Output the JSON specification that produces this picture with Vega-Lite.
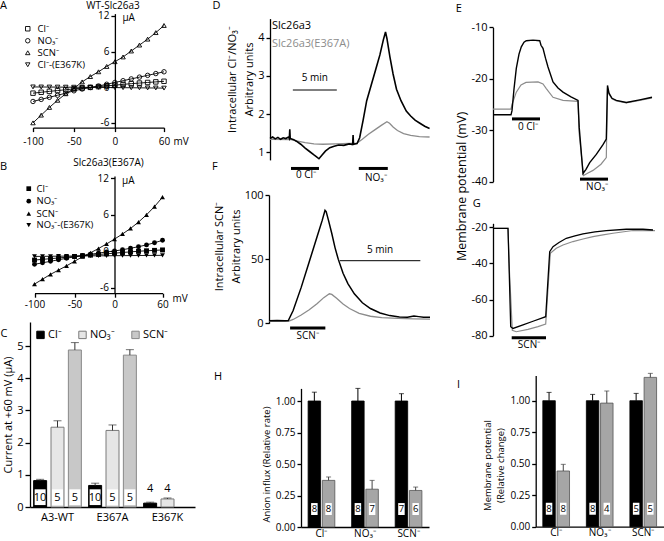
{
"$schema": "https://vega.github.io/schema/vega-lite/v6.json",
"background": "white",
"padding": 0,
"config": {
 "font": "Open Sans",
 "view": {"stroke": null},
 "axis": {"grid": false, "domainColor": "#000", "tickColor": "#000", "labelColor": "#000", "titleColor": "#000", "labelFontSize": 10, "titleFontSize": 11, "titleFontWeight": "normal", "tickSize": 4, "domainWidth": 1.3, "tickWidth": 1.3, "labelPadding": 2, "labelFont": "Open Sans", "titleFont": "Open Sans"},
 "legend": {"labelFont": "Open Sans", "labelColor": "#000", "padding": 0},
 "title": {"font": "Open Sans", "fontSize": 11, "fontWeight": "normal", "color": "#000", "anchor": "start", "baseline": "top", "offset": 0, "frame": "group"},
 "text": {"font": "Open Sans", "color": "#000"}
},
"datasets": {
 "ivA": [
  {"v":-100,"I":-1.0,"ion":"Cl⁻"},{"v":-90,"I":-0.85,"ion":"Cl⁻"},{"v":-80,"I":-0.7,"ion":"Cl⁻"},{"v":-70,"I":-0.56,"ion":"Cl⁻"},{"v":-60,"I":-0.42,"ion":"Cl⁻"},{"v":-50,"I":-0.28,"ion":"Cl⁻"},{"v":-40,"I":-0.15,"ion":"Cl⁻"},{"v":-30,"I":-0.02,"ion":"Cl⁻"},{"v":-20,"I":0.1,"ion":"Cl⁻"},{"v":-10,"I":0.22,"ion":"Cl⁻"},{"v":0,"I":0.35,"ion":"Cl⁻"},{"v":10,"I":0.48,"ion":"Cl⁻"},{"v":20,"I":0.6,"ion":"Cl⁻"},{"v":30,"I":0.7,"ion":"Cl⁻"},{"v":40,"I":0.8,"ion":"Cl⁻"},{"v":50,"I":0.9,"ion":"Cl⁻"},{"v":60,"I":1.0,"ion":"Cl⁻"},
  {"v":-100,"I":-2.4,"ion":"NO₃⁻"},{"v":-90,"I":-2.05,"ion":"NO₃⁻"},{"v":-80,"I":-1.7,"ion":"NO₃⁻"},{"v":-70,"I":-1.35,"ion":"NO₃⁻"},{"v":-60,"I":-1.0,"ion":"NO₃⁻"},{"v":-50,"I":-0.6,"ion":"NO₃⁻"},{"v":-40,"I":-0.3,"ion":"NO₃⁻"},{"v":-30,"I":-0.05,"ion":"NO₃⁻"},{"v":-20,"I":0.2,"ion":"NO₃⁻"},{"v":-10,"I":0.5,"ion":"NO₃⁻"},{"v":0,"I":0.8,"ion":"NO₃⁻"},{"v":10,"I":1.1,"ion":"NO₃⁻"},{"v":20,"I":1.4,"ion":"NO₃⁻"},{"v":30,"I":1.7,"ion":"NO₃⁻"},{"v":40,"I":2.0,"ion":"NO₃⁻"},{"v":50,"I":2.3,"ion":"NO₃⁻"},{"v":60,"I":2.6,"ion":"NO₃⁻"},
  {"v":-100,"I":-6.0,"ion":"SCN⁻"},{"v":-90,"I":-4.7,"ion":"SCN⁻"},{"v":-80,"I":-3.4,"ion":"SCN⁻"},{"v":-70,"I":-2.2,"ion":"SCN⁻"},{"v":-60,"I":-1.1,"ion":"SCN⁻"},{"v":-50,"I":-0.2,"ion":"SCN⁻"},{"v":-40,"I":0.9,"ion":"SCN⁻"},{"v":-30,"I":1.8,"ion":"SCN⁻"},{"v":-20,"I":2.6,"ion":"SCN⁻"},{"v":-10,"I":3.5,"ion":"SCN⁻"},{"v":0,"I":4.3,"ion":"SCN⁻"},{"v":10,"I":5.1,"ion":"SCN⁻"},{"v":20,"I":6.1,"ion":"SCN⁻"},{"v":30,"I":7.1,"ion":"SCN⁻"},{"v":40,"I":8.1,"ion":"SCN⁻"},{"v":50,"I":9.2,"ion":"SCN⁻"},{"v":60,"I":10.4,"ion":"SCN⁻"},
  {"v":-100,"I":0.05,"ion":"Cl⁻-(E367K)"},{"v":-90,"I":0.04,"ion":"Cl⁻-(E367K)"},{"v":-80,"I":0.03,"ion":"Cl⁻-(E367K)"},{"v":-70,"I":0.02,"ion":"Cl⁻-(E367K)"},{"v":-60,"I":0.01,"ion":"Cl⁻-(E367K)"},{"v":-50,"I":0.0,"ion":"Cl⁻-(E367K)"},{"v":-40,"I":-0.01,"ion":"Cl⁻-(E367K)"},{"v":-30,"I":-0.02,"ion":"Cl⁻-(E367K)"},{"v":-20,"I":-0.03,"ion":"Cl⁻-(E367K)"},{"v":-10,"I":-0.05,"ion":"Cl⁻-(E367K)"},{"v":0,"I":-0.06,"ion":"Cl⁻-(E367K)"},{"v":10,"I":-0.08,"ion":"Cl⁻-(E367K)"},{"v":20,"I":-0.09,"ion":"Cl⁻-(E367K)"},{"v":30,"I":-0.1,"ion":"Cl⁻-(E367K)"},{"v":40,"I":-0.12,"ion":"Cl⁻-(E367K)"},{"v":50,"I":-0.13,"ion":"Cl⁻-(E367K)"},{"v":60,"I":-0.15,"ion":"Cl⁻-(E367K)"}
 ],
 "ivB": [
  {"v":-100,"I":-1.45,"ion":"Cl⁻"},{"v":-90,"I":-1.33,"ion":"Cl⁻"},{"v":-80,"I":-1.22,"ion":"Cl⁻"},{"v":-70,"I":-1.1,"ion":"Cl⁻"},{"v":-60,"I":-0.98,"ion":"Cl⁻"},{"v":-50,"I":-0.86,"ion":"Cl⁻"},{"v":-40,"I":-0.75,"ion":"Cl⁻"},{"v":-30,"I":-0.64,"ion":"Cl⁻"},{"v":-20,"I":-0.53,"ion":"Cl⁻"},{"v":-10,"I":-0.42,"ion":"Cl⁻"},{"v":0,"I":-0.31,"ion":"Cl⁻"},{"v":10,"I":-0.2,"ion":"Cl⁻"},{"v":20,"I":-0.1,"ion":"Cl⁻"},{"v":30,"I":0.0,"ion":"Cl⁻"},{"v":40,"I":0.08,"ion":"Cl⁻"},{"v":50,"I":0.15,"ion":"Cl⁻"},{"v":60,"I":0.22,"ion":"Cl⁻"},
  {"v":-100,"I":-2.15,"ion":"NO₃⁻"},{"v":-90,"I":-1.9,"ion":"NO₃⁻"},{"v":-80,"I":-1.65,"ion":"NO₃⁻"},{"v":-70,"I":-1.4,"ion":"NO₃⁻"},{"v":-60,"I":-1.15,"ion":"NO₃⁻"},{"v":-50,"I":-0.92,"ion":"NO₃⁻"},{"v":-40,"I":-0.7,"ion":"NO₃⁻"},{"v":-30,"I":-0.5,"ion":"NO₃⁻"},{"v":-20,"I":-0.3,"ion":"NO₃⁻"},{"v":-10,"I":-0.12,"ion":"NO₃⁻"},{"v":0,"I":0.05,"ion":"NO₃⁻"},{"v":10,"I":0.25,"ion":"NO₃⁻"},{"v":20,"I":0.5,"ion":"NO₃⁻"},{"v":30,"I":0.75,"ion":"NO₃⁻"},{"v":40,"I":1.05,"ion":"NO₃⁻"},{"v":50,"I":1.4,"ion":"NO₃⁻"},{"v":60,"I":1.8,"ion":"NO₃⁻"},
  {"v":-100,"I":-5.4,"ion":"SCN⁻"},{"v":-90,"I":-4.6,"ion":"SCN⁻"},{"v":-80,"I":-3.8,"ion":"SCN⁻"},{"v":-70,"I":-3.1,"ion":"SCN⁻"},{"v":-60,"I":-2.4,"ion":"SCN⁻"},{"v":-50,"I":-1.65,"ion":"SCN⁻"},{"v":-40,"I":-0.9,"ion":"SCN⁻"},{"v":-30,"I":-0.25,"ion":"SCN⁻"},{"v":-20,"I":0.45,"ion":"SCN⁻"},{"v":-10,"I":1.2,"ion":"SCN⁻"},{"v":0,"I":2.0,"ion":"SCN⁻"},{"v":10,"I":2.85,"ion":"SCN⁻"},{"v":20,"I":3.75,"ion":"SCN⁻"},{"v":30,"I":4.8,"ion":"SCN⁻"},{"v":40,"I":6.0,"ion":"SCN⁻"},{"v":50,"I":7.35,"ion":"SCN⁻"},{"v":60,"I":8.9,"ion":"SCN⁻"},
  {"v":-100,"I":-0.85,"ion":"NO₃⁻-(E367K)"},{"v":-90,"I":-0.84,"ion":"NO₃⁻-(E367K)"},{"v":-80,"I":-0.82,"ion":"NO₃⁻-(E367K)"},{"v":-70,"I":-0.81,"ion":"NO₃⁻-(E367K)"},{"v":-60,"I":-0.8,"ion":"NO₃⁻-(E367K)"},{"v":-50,"I":-0.78,"ion":"NO₃⁻-(E367K)"},{"v":-40,"I":-0.77,"ion":"NO₃⁻-(E367K)"},{"v":-30,"I":-0.76,"ion":"NO₃⁻-(E367K)"},{"v":-20,"I":-0.75,"ion":"NO₃⁻-(E367K)"},{"v":-10,"I":-0.74,"ion":"NO₃⁻-(E367K)"},{"v":0,"I":-0.73,"ion":"NO₃⁻-(E367K)"},{"v":10,"I":-0.72,"ion":"NO₃⁻-(E367K)"},{"v":20,"I":-0.71,"ion":"NO₃⁻-(E367K)"},{"v":30,"I":-0.7,"ion":"NO₃⁻-(E367K)"},{"v":40,"I":-0.69,"ion":"NO₃⁻-(E367K)"},{"v":50,"I":-0.68,"ion":"NO₃⁻-(E367K)"},{"v":60,"I":-0.67,"ion":"NO₃⁻-(E367K)"}
 ],
 "barC": [
  {"group":"A3-WT","anion":"Cl⁻","mean":0.82,"hi":0.86,"n":"10"},
  {"group":"A3-WT","anion":"NO₃⁻","mean":2.48,"hi":2.68,"n":"5"},
  {"group":"A3-WT","anion":"SCN⁻","mean":4.88,"hi":5.11,"n":"5"},
  {"group":"E367A","anion":"Cl⁻","mean":0.67,"hi":0.74,"n":"10"},
  {"group":"E367A","anion":"NO₃⁻","mean":2.38,"hi":2.55,"n":"5"},
  {"group":"E367A","anion":"SCN⁻","mean":4.72,"hi":4.89,"n":"5"},
  {"group":"E367K","anion":"Cl⁻","mean":0.12,"hi":0.15,"n":"4"},
  {"group":"E367K","anion":"NO₃⁻","mean":0.25,"hi":0.28,"n":"4"}
 ],
 "barH": [
  {"anion":"Cl⁻","cell":"WT","mean":1.0,"hi":1.07,"n":"8"},
  {"anion":"Cl⁻","cell":"E367A","mean":0.37,"hi":0.397,"n":"8"},
  {"anion":"NO₃⁻","cell":"WT","mean":1.0,"hi":1.1,"n":"8"},
  {"anion":"NO₃⁻","cell":"E367A","mean":0.3,"hi":0.37,"n":"7"},
  {"anion":"SCN⁻","cell":"WT","mean":1.0,"hi":1.058,"n":"7"},
  {"anion":"SCN⁻","cell":"E367A","mean":0.29,"hi":0.317,"n":"6"}
 ],
 "barI": [
  {"anion":"Cl⁻","cell":"WT","mean":1.0,"hi":1.066,"n":"8"},
  {"anion":"Cl⁻","cell":"E367A","mean":0.442,"hi":0.495,"n":"8"},
  {"anion":"NO₃⁻","cell":"WT","mean":1.0,"hi":1.05,"n":"8"},
  {"anion":"NO₃⁻","cell":"E367A","mean":0.981,"hi":1.077,"n":"4"},
  {"anion":"SCN⁻","cell":"WT","mean":1.0,"hi":1.058,"n":"5"},
  {"anion":"SCN⁻","cell":"E367A","mean":1.185,"hi":1.217,"n":"5"}
 ],
 "trD": [
  {"t":0,"val":1.36,"cell":"WT"},{"t":0.3,"val":1.4,"cell":"WT"},{"t":0.6,"val":1.35,"cell":"WT"},{"t":0.9,"val":1.39,"cell":"WT"},{"t":1.2,"val":1.34,"cell":"WT"},{"t":1.5,"val":1.38,"cell":"WT"},{"t":1.8,"val":1.36,"cell":"WT"},{"t":2.1,"val":1.4,"cell":"WT"},{"t":2.2,"val":1.36,"cell":"WT"},{"t":2.25,"val":1.6,"cell":"WT"},{"t":2.3,"val":1.36,"cell":"WT"},{"t":2.7,"val":1.33,"cell":"WT"},{"t":3.0,"val":1.29,"cell":"WT"},{"t":3.5,"val":1.21,"cell":"WT"},{"t":4.0,"val":1.11,"cell":"WT"},{"t":4.5,"val":1.02,"cell":"WT"},{"t":5.0,"val":0.93,"cell":"WT"},{"t":5.3,"val":0.88,"cell":"WT"},{"t":5.57,"val":0.83,"cell":"WT"},{"t":5.9,"val":0.92,"cell":"WT"},{"t":6.3,"val":1.03,"cell":"WT"},{"t":6.8,"val":1.12,"cell":"WT"},{"t":7.3,"val":1.16,"cell":"WT"},{"t":7.8,"val":1.19,"cell":"WT"},{"t":8.4,"val":1.18,"cell":"WT"},{"t":9.0,"val":1.22,"cell":"WT"},{"t":9.4,"val":1.2,"cell":"WT"},{"t":9.45,"val":1.45,"cell":"WT"},{"t":9.5,"val":1.21,"cell":"WT"},{"t":9.9,"val":1.23,"cell":"WT"},{"t":10.2,"val":1.38,"cell":"WT"},{"t":10.6,"val":1.85,"cell":"WT"},{"t":11.0,"val":2.35,"cell":"WT"},{"t":11.5,"val":2.75,"cell":"WT"},{"t":12.0,"val":3.15,"cell":"WT"},{"t":12.5,"val":3.55,"cell":"WT"},{"t":12.9,"val":3.95,"cell":"WT"},{"t":13.14,"val":4.15,"cell":"WT"},{"t":13.3,"val":3.98,"cell":"WT"},{"t":13.64,"val":3.5,"cell":"WT"},{"t":14.0,"val":3.05,"cell":"WT"},{"t":14.39,"val":2.65,"cell":"WT"},{"t":14.9,"val":2.35,"cell":"WT"},{"t":15.5,"val":2.08,"cell":"WT"},{"t":16.0,"val":1.95,"cell":"WT"},{"t":16.5,"val":1.84,"cell":"WT"},{"t":17.05,"val":1.76,"cell":"WT"},{"t":17.6,"val":1.68,"cell":"WT"},{"t":18.15,"val":1.62,"cell":"WT"},
  {"t":0,"val":1.34,"cell":"E367A"},{"t":2.4,"val":1.33,"cell":"E367A"},{"t":3.0,"val":1.3,"cell":"E367A"},{"t":4.0,"val":1.25,"cell":"E367A"},{"t":5.0,"val":1.22,"cell":"E367A"},{"t":6.0,"val":1.21,"cell":"E367A"},{"t":7.5,"val":1.22,"cell":"E367A"},{"t":9.0,"val":1.23,"cell":"E367A"},{"t":9.9,"val":1.24,"cell":"E367A"},{"t":10.5,"val":1.34,"cell":"E367A"},{"t":11.2,"val":1.47,"cell":"E367A"},{"t":12.0,"val":1.6,"cell":"E367A"},{"t":12.7,"val":1.71,"cell":"E367A"},{"t":13.3,"val":1.8,"cell":"E367A"},{"t":13.6,"val":1.76,"cell":"E367A"},{"t":14.0,"val":1.66,"cell":"E367A"},{"t":14.5,"val":1.57,"cell":"E367A"},{"t":15.2,"val":1.49,"cell":"E367A"},{"t":16.0,"val":1.44,"cell":"E367A"},{"t":17.0,"val":1.41,"cell":"E367A"},{"t":18.15,"val":1.4,"cell":"E367A"}
 ],
 "trF": [
  {"t":0,"val":2.0,"cell":"WT"},{"t":0.5,"val":2.1,"cell":"WT"},{"t":1.0,"val":2.0,"cell":"WT"},{"t":1.2,"val":2.2,"cell":"WT"},{"t":1.5,"val":10,"cell":"WT"},{"t":2.0,"val":28,"cell":"WT"},{"t":2.5,"val":48,"cell":"WT"},{"t":3.0,"val":68,"cell":"WT"},{"t":3.3,"val":80,"cell":"WT"},{"t":3.48,"val":88,"cell":"WT"},{"t":3.55,"val":87,"cell":"WT"},{"t":3.7,"val":80,"cell":"WT"},{"t":3.9,"val":70,"cell":"WT"},{"t":4.1,"val":59,"cell":"WT"},{"t":4.3,"val":50,"cell":"WT"},{"t":4.6,"val":39,"cell":"WT"},{"t":4.9,"val":31,"cell":"WT"},{"t":5.3,"val":23,"cell":"WT"},{"t":5.8,"val":16,"cell":"WT"},{"t":6.3,"val":11.5,"cell":"WT"},{"t":6.9,"val":8,"cell":"WT"},{"t":7.5,"val":6,"cell":"WT"},{"t":8.1,"val":5,"cell":"WT"},{"t":8.6,"val":4.8,"cell":"WT"},{"t":9.0,"val":5.6,"cell":"WT"},{"t":9.3,"val":5.2,"cell":"WT"},{"t":9.6,"val":4.8,"cell":"WT"},{"t":10,"val":4.7,"cell":"WT"},
  {"t":0,"val":1.5,"cell":"E367A"},{"t":1.2,"val":1.6,"cell":"E367A"},{"t":1.5,"val":3,"cell":"E367A"},{"t":2.0,"val":6.5,"cell":"E367A"},{"t":2.5,"val":10.5,"cell":"E367A"},{"t":3.0,"val":15.5,"cell":"E367A"},{"t":3.4,"val":20,"cell":"E367A"},{"t":3.75,"val":23,"cell":"E367A"},{"t":3.9,"val":22.5,"cell":"E367A"},{"t":4.2,"val":19.5,"cell":"E367A"},{"t":4.6,"val":15,"cell":"E367A"},{"t":5.0,"val":11.5,"cell":"E367A"},{"t":5.6,"val":7.8,"cell":"E367A"},{"t":6.3,"val":5.5,"cell":"E367A"},{"t":7.0,"val":4.4,"cell":"E367A"},{"t":8.0,"val":3.8,"cell":"E367A"},{"t":9.0,"val":3.5,"cell":"E367A"},{"t":10,"val":3.3,"cell":"E367A"}
 ],
 "trE": [
  {"t":0,"val":-27.0,"cell":"WT"},{"t":1.8,"val":-27.0,"cell":"WT"},{"t":1.9,"val":-26.2,"cell":"WT"},{"t":2.1,"val":-22,"cell":"WT"},{"t":2.33,"val":-18,"cell":"WT"},{"t":2.6,"val":-15.2,"cell":"WT"},{"t":2.83,"val":-13.8,"cell":"WT"},{"t":3.1,"val":-12.9,"cell":"WT"},{"t":3.33,"val":-12.6,"cell":"WT"},{"t":4.0,"val":-12.5,"cell":"WT"},{"t":4.67,"val":-12.6,"cell":"WT"},{"t":4.8,"val":-13.5,"cell":"WT"},{"t":5.0,"val":-14.1,"cell":"WT"},{"t":5.25,"val":-16,"cell":"WT"},{"t":5.5,"val":-17.7,"cell":"WT"},{"t":6.0,"val":-20.6,"cell":"WT"},{"t":6.5,"val":-21.8,"cell":"WT"},{"t":7.0,"val":-22.6,"cell":"WT"},{"t":7.8,"val":-23.5,"cell":"WT"},{"t":8.5,"val":-24.2,"cell":"WT"},{"t":8.62,"val":-29.4,"cell":"WT"},{"t":9.0,"val":-38.4,"cell":"WT"},{"t":9.3,"val":-37.6,"cell":"WT"},{"t":9.67,"val":-36.3,"cell":"WT"},{"t":10.33,"val":-34.7,"cell":"WT"},{"t":11.0,"val":-32.8,"cell":"WT"},{"t":11.33,"val":-31.7,"cell":"WT"},{"t":11.45,"val":-21.3,"cell":"WT"},{"t":11.6,"val":-22.8,"cell":"WT"},{"t":11.9,"val":-23.8,"cell":"WT"},{"t":12.33,"val":-24.2,"cell":"WT"},{"t":13.33,"val":-24.6,"cell":"WT"},{"t":14.67,"val":-24.1,"cell":"WT"},{"t":15.9,"val":-23.6,"cell":"WT"},
  {"t":0,"val":-25.9,"cell":"E367A"},{"t":1.8,"val":-25.9,"cell":"E367A"},{"t":1.9,"val":-25.0,"cell":"E367A"},{"t":2.33,"val":-22.6,"cell":"E367A"},{"t":2.8,"val":-21.2,"cell":"E367A"},{"t":3.3,"val":-20.7,"cell":"E367A"},{"t":4.5,"val":-20.6,"cell":"E367A"},{"t":5.0,"val":-21.0,"cell":"E367A"},{"t":5.33,"val":-21.9,"cell":"E367A"},{"t":6.0,"val":-23.6,"cell":"E367A"},{"t":7.0,"val":-24.2,"cell":"E367A"},{"t":8.5,"val":-24.4,"cell":"E367A"},{"t":8.62,"val":-30.7,"cell":"E367A"},{"t":9.05,"val":-38.8,"cell":"E367A"},{"t":9.5,"val":-38.3,"cell":"E367A"},{"t":10.0,"val":-37.8,"cell":"E367A"},{"t":10.8,"val":-36.6,"cell":"E367A"},{"t":11.33,"val":-35.3,"cell":"E367A"},{"t":11.45,"val":-21.8,"cell":"E367A"},{"t":11.6,"val":-23,"cell":"E367A"},{"t":11.9,"val":-23.9,"cell":"E367A"},{"t":12.33,"val":-24.3,"cell":"E367A"},{"t":13.33,"val":-24.7,"cell":"E367A"},{"t":14.67,"val":-24.2,"cell":"E367A"},{"t":15.9,"val":-23.7,"cell":"E367A"}
 ],
 "trG": [
  {"t":0,"val":-20.6,"cell":"WT"},{"t":1.5,"val":-20.6,"cell":"WT"},{"t":1.6,"val":-40,"cell":"WT"},{"t":1.77,"val":-75,"cell":"WT"},{"t":2.0,"val":-76,"cell":"WT"},{"t":3.0,"val":-74,"cell":"WT"},{"t":4.0,"val":-72,"cell":"WT"},{"t":5.27,"val":-69.5,"cell":"WT"},{"t":5.67,"val":-33.5,"cell":"WT"},{"t":6.0,"val":-30.7,"cell":"WT"},{"t":6.6,"val":-28.4,"cell":"WT"},{"t":7.33,"val":-26.1,"cell":"WT"},{"t":8.2,"val":-24.8,"cell":"WT"},{"t":9.0,"val":-23.7,"cell":"WT"},{"t":10.2,"val":-22.6,"cell":"WT"},{"t":11.33,"val":-21.8,"cell":"WT"},{"t":13.33,"val":-21.1,"cell":"WT"},{"t":15.0,"val":-21.1,"cell":"WT"},{"t":16.0,"val":-21.5,"cell":"WT"},
  {"t":0,"val":-20.6,"cell":"E367A"},{"t":1.5,"val":-20.6,"cell":"E367A"},{"t":1.65,"val":-45,"cell":"E367A"},{"t":1.93,"val":-77,"cell":"E367A"},{"t":2.33,"val":-77.8,"cell":"E367A"},{"t":3.5,"val":-76.5,"cell":"E367A"},{"t":4.5,"val":-75,"cell":"E367A"},{"t":5.27,"val":-73.5,"cell":"E367A"},{"t":5.73,"val":-34.4,"cell":"E367A"},{"t":6.33,"val":-31.6,"cell":"E367A"},{"t":7.0,"val":-29.8,"cell":"E367A"},{"t":8.0,"val":-27.9,"cell":"E367A"},{"t":9.0,"val":-26.5,"cell":"E367A"},{"t":10.0,"val":-25.2,"cell":"E367A"},{"t":11.0,"val":-24.2,"cell":"E367A"},{"t":12.0,"val":-23.3,"cell":"E367A"},{"t":14.0,"val":-21.8,"cell":"E367A"},{"t":16.2,"val":-21.8,"cell":"E367A"}
 ]
},
"columns": 3,
"spacing": 0,
"bounds": "flush",
"resolve": {"scale": {"color": "independent", "fill": "independent", "stroke": "independent", "shape": "independent", "x": "independent", "y": "independent", "xOffset": "independent", "size": "independent", "strokeWidth": "independent"}, "legend": {"color": "independent", "fill": "independent", "stroke": "independent", "shape": "independent"}},
"concat": [
 {"width": 200, "height": 155,
  "layer": [
   {"data": {"name": "ivA"}, "mark": {"type": "line", "color": "#000", "strokeWidth": 0.9},
    "encoding": {
     "x": {"field": "v", "type": "quantitative", "scale": {"domain": [-100, 60], "range": [33, 164], "nice": false, "zero": false}, "axis": {"values": [-100, -50, 0, 60], "offset": -27.4, "title": "mV", "titleAngle": 0, "titleAlign": "left", "titleBaseline": "middle", "titleX": 173, "titleY": 14, "titleFontSize": 10, "labelFlush": false, "labelPadding": 5, "labelExpr": "replace(datum.label,'−','-')"}},
     "y": {"field": "I", "type": "quantitative", "scale": {"domain": [-6.8, 12.4], "range": [127.6, 13.6], "nice": false, "zero": false}, "axis": {"values": [-6, -3, 0, 3, 6, 9, 12], "offset": -114.9, "title": "μA", "titleAngle": 0, "titleAlign": "left", "titleBaseline": "middle", "titleX": 7, "titleY": 17, "titleFontSize": 10, "labelExpr": "replace(datum.label,'−','-')"}},
     "detail": {"field": "ion", "type": "nominal"}}},
   {"data": {"name": "ivA"}, "mark": {"type": "point", "filled": false, "color": "#000", "size": 20, "strokeWidth": 0.9, "opacity": 1},
    "encoding": {
     "x": {"field": "v", "type": "quantitative", "title": "mV", "scale": {"domain": [-100, 60], "range": [33, 164], "nice": false, "zero": false}},
     "y": {"field": "I", "type": "quantitative", "title": "μA", "scale": {"domain": [-6.8, 12.4], "range": [127.6, 13.6], "nice": false, "zero": false}},
     "shape": {"field": "ion", "type": "nominal", "scale": {"domain": ["Cl⁻", "NO₃⁻", "SCN⁻", "Cl⁻-(E367K)"], "range": ["square", "circle", "triangle-up", "triangle-down"]},
     "legend": {"orient": "none", "legendX": 23, "legendY": 24, "title": null, "labelFontSize": 9.5, "symbolSize": 20, "symbolStrokeColor": "#000", "symbolStrokeWidth": 0.9, "rowPadding": 1, "labelOffset": 5}}}},
   {"data": {"values": [{"k": 0}]}, "mark": {"type": "text", "text": "WT-Slc26a3", "fontSize": 10},
    "encoding": {"x": {"datum": -2.3, "type": "quantitative", "title": "mV", "scale": {"domain": [-100, 60], "range": [33, 164], "nice": false, "zero": false}}, "y": {"datum": 13.6, "type": "quantitative", "title": "μA", "scale": {"domain": [-6.8, 12.4], "range": [127.6, 13.6], "nice": false, "zero": false}}}},
   {"data": {"values": [{"k": 0}]}, "mark": {"type": "text", "text": "A", "fontSize": 11, "align": "left", "baseline": "alphabetic"},
    "encoding": {"x": {"datum": -140.3, "type": "quantitative", "title": "mV", "scale": {"domain": [-100, 60], "range": [33, 164], "nice": false, "zero": false}}, "y": {"datum": 13.12, "type": "quantitative", "title": "μA", "scale": {"domain": [-6.8, 12.4], "range": [127.6, 13.6], "nice": false, "zero": false}}}}
  ]},
 {"width": 240, "height": 155,
  "layer": [
   {"data": {"name": "trD"}, "transform": [{"filter": "datum.cell === 'E367A'"}], "mark": {"type": "line", "color": "#8c8c8c", "strokeWidth": 1.3},
    "encoding": {
     "x": {"field": "t", "type": "quantitative", "scale": {"domain": [0, 18.2], "range": [70, 230], "nice": false, "zero": false}, "axis": null},
     "y": {"field": "val", "type": "quantitative", "scale": {"domain": [0.8, 4.5], "range": [159.9, 18.6], "nice": false, "zero": false}, "axis": {"values": [1, 2, 3, 4], "offset": -70, "title": ["Intracellular Cl⁻/NO₃⁻", "Arbitrary units"], "titleFontSize": 11, "titleLineHeight": 17, "labelFontSize": 11, "titleY": 79, "titlePadding": 3}}}},
   {"data": {"name": "trD"}, "transform": [{"filter": "datum.cell === 'WT'"}], "mark": {"type": "line", "color": "#000", "strokeWidth": 1.6},
    "encoding": {
     "x": {"field": "t", "type": "quantitative", "scale": {"domain": [0, 18.2], "range": [70, 230], "nice": false, "zero": false}, "axis": null},
     "y": {"field": "val", "type": "quantitative", "scale": {"domain": [0.8, 4.5], "range": [159.9, 18.6], "nice": false, "zero": false}}}},
   {"data": {"values": [{"lab": "0 Cl⁻", "a": 2.39, "b": 5.57, "c": 0.576, "tx": 4.09, "ty": 0.4}, {"lab": "NO₃⁻", "a": 10.1, "b": 13.4, "c": 0.576, "tx": 12.05, "ty": 0.33}]},
    "layer": [
     {"mark": {"type": "rule", "strokeWidth": 3, "color": "#000"},
      "encoding": {"x": {"field": "a", "type": "quantitative", "scale": {"domain": [0, 18.2], "range": [70, 230], "nice": false, "zero": false}, "axis": null}, "x2": {"field": "b"}, "y": {"field": "c", "type": "quantitative", "scale": {"domain": [0.8, 4.5], "range": [159.9, 18.6], "nice": false, "zero": false}}}},
     {"mark": {"type": "text", "fontSize": 10},
      "encoding": {"x": {"field": "tx", "type": "quantitative", "scale": {"domain": [0, 18.2], "range": [70, 230], "nice": false, "zero": false}, "axis": null}, "y": {"field": "ty", "type": "quantitative", "scale": {"domain": [0.8, 4.5], "range": [159.9, 18.6], "nice": false, "zero": false}}, "text": {"field": "lab"}}}
    ]},
   {"data": {"values": [{"lab": "5 min", "a": 2.6, "b": 7.6, "c": 2.63, "tx": 5.1, "ty": 2.94}]},
    "layer": [
     {"mark": {"type": "rule", "strokeWidth": 1, "color": "#000"},
      "encoding": {"x": {"field": "a", "type": "quantitative", "scale": {"domain": [0, 18.2], "range": [70, 230], "nice": false, "zero": false}, "axis": null}, "x2": {"field": "b"}, "y": {"field": "c", "type": "quantitative", "scale": {"domain": [0.8, 4.5], "range": [159.9, 18.6], "nice": false, "zero": false}}}},
     {"mark": {"type": "text", "fontSize": 10},
      "encoding": {"x": {"field": "tx", "type": "quantitative", "scale": {"domain": [0, 18.2], "range": [70, 230], "nice": false, "zero": false}, "axis": null}, "y": {"field": "ty", "type": "quantitative", "scale": {"domain": [0.8, 4.5], "range": [159.9, 18.6], "nice": false, "zero": false}}, "text": {"field": "lab"}}}
    ]},
   {"data": {"values": [{"lab": "Slc26a3", "tx": 0.23, "ty": 4.31, "col": "k"}, {"lab": "Slc26a3(E367A)", "tx": 0.23, "ty": 3.835, "col": "g"}]},
    "mark": {"type": "text", "fontSize": 11, "align": "left"},
    "encoding": {
     "x": {"field": "tx", "type": "quantitative", "scale": {"domain": [0, 18.2], "range": [70, 230], "nice": false, "zero": false}, "axis": null},
     "y": {"field": "ty", "type": "quantitative", "scale": {"domain": [0.8, 4.5], "range": [159.9, 18.6], "nice": false, "zero": false}},
     "text": {"field": "lab"},
     "color": {"condition": {"test": "datum.col === 'g'", "value": "#8c8c8c"}, "value": "#000"}}},
   {"data": {"values": [{"k": 0}]}, "mark": {"type": "text", "text": "D", "fontSize": 11, "align": "left", "baseline": "alphabetic"},
    "encoding": {"x": {"datum": -6.54, "type": "quantitative", "scale": {"domain": [0, 18.2], "range": [70, 230], "nice": false, "zero": false}, "axis": null}, "y": {"datum": 4.744, "type": "quantitative", "scale": {"domain": [0.8, 4.5], "range": [159.9, 18.6], "nice": false, "zero": false}}}}
  ]},
 {"width": 224, "height": 155,
  "layer": [
   {"data": {"name": "trE"}, "transform": [{"filter": "datum.cell === 'E367A'"}], "mark": {"type": "line", "color": "#8c8c8c", "strokeWidth": 1.2},
    "encoding": {
     "x": {"field": "t", "type": "quantitative", "scale": {"domain": [0, 16.7], "range": [53, 220], "nice": false, "zero": false}, "axis": null},
     "y": {"field": "val", "type": "quantitative", "scale": {"domain": [-40, -10], "range": [181.7, 27.3], "nice": false, "zero": false}, "axis": {"values": [-10, -20, -30, -40], "offset": -53, "title": "Membrane potential (mV)", "titleFontSize": 12.5, "titleX": -25, "titleY": 186, "labelFontSize": 11, "labelExpr": "replace(datum.label,'−','-')"}}}},
   {"data": {"name": "trE"}, "transform": [{"filter": "datum.cell === 'WT'"}], "mark": {"type": "line", "color": "#000", "strokeWidth": 1.4},
    "encoding": {
     "x": {"field": "t", "type": "quantitative", "scale": {"domain": [0, 16.7], "range": [53, 220], "nice": false, "zero": false}, "axis": null},
     "y": {"field": "val", "type": "quantitative", "scale": {"domain": [-40, -10], "range": [181.7, 27.3], "nice": false, "zero": false}}}},
   {"data": {"values": [{"lab": "0 Cl⁻", "a": 1.9, "b": 4.7, "c": -27.8, "tx": 3.5, "ty": -29.4}, {"lab": "NO₃⁻", "a": 8.7, "b": 11.5, "c": -39.5, "tx": 10.4, "ty": -41.0}]},
    "layer": [
     {"mark": {"type": "rule", "strokeWidth": 3, "color": "#000"},
      "encoding": {"x": {"field": "a", "type": "quantitative", "scale": {"domain": [0, 16.7], "range": [53, 220], "nice": false, "zero": false}, "axis": null}, "x2": {"field": "b"}, "y": {"field": "c", "type": "quantitative", "scale": {"domain": [-40, -10], "range": [181.7, 27.3], "nice": false, "zero": false}}}},
     {"mark": {"type": "text", "fontSize": 10},
      "encoding": {"x": {"field": "tx", "type": "quantitative", "scale": {"domain": [0, 16.7], "range": [53, 220], "nice": false, "zero": false}, "axis": null}, "y": {"field": "ty", "type": "quantitative", "scale": {"domain": [-40, -10], "range": [181.7, 27.3], "nice": false, "zero": false}}, "text": {"field": "lab"}}}
    ]},
   {"data": {"values": [{"k": 0}]}, "mark": {"type": "text", "text": "E", "fontSize": 11, "align": "left", "baseline": "alphabetic"},
    "encoding": {"x": {"datum": -3.73, "type": "quantitative", "scale": {"domain": [0, 16.7], "range": [53, 220], "nice": false, "zero": false}, "axis": null}, "y": {"datum": -6.97, "type": "quantitative", "scale": {"domain": [-40, -10], "range": [181.7, 27.3], "nice": false, "zero": false}}}}
  ]},
 {"width": 200, "height": 160,
  "layer": [
   {"data": {"name": "ivB"}, "mark": {"type": "line", "color": "#000", "strokeWidth": 0.9},
    "encoding": {
     "x": {"field": "v", "type": "quantitative", "scale": {"domain": [-100, 60], "range": [34.5, 162.5], "nice": false, "zero": false}, "axis": {"values": [-100, -50, 0, 60], "offset": -21.8, "title": "mV", "titleAngle": 0, "titleAlign": "left", "titleBaseline": "middle", "titleX": 172, "titleY": 5.5, "titleFontSize": 10, "labelFlush": false, "labelPadding": 2.5, "labelExpr": "replace(datum.label,'−','-')"}},
     "y": {"field": "I", "type": "quantitative", "scale": {"domain": [-6.9, 12.4], "range": [138.2, 20.9], "nice": false, "zero": false}, "axis": {"values": [-6, -3, 0, 3, 6, 9, 12], "offset": -114.5, "title": "μA", "titleAngle": 0, "titleAlign": "left", "titleBaseline": "middle", "titleX": 7, "titleY": 25, "titleFontSize": 10, "labelExpr": "replace(datum.label,'−','-')"}},
     "detail": {"field": "ion", "type": "nominal"}}},
   {"data": {"name": "ivB"}, "mark": {"type": "point", "filled": true, "color": "#000", "size": 24, "opacity": 1},
    "encoding": {
     "x": {"field": "v", "type": "quantitative", "title": "mV", "scale": {"domain": [-100, 60], "range": [34.5, 162.5], "nice": false, "zero": false}},
     "y": {"field": "I", "type": "quantitative", "title": "μA", "scale": {"domain": [-6.9, 12.4], "range": [138.2, 20.9], "nice": false, "zero": false}},
     "shape": {"field": "ion", "type": "nominal", "scale": {"domain": ["Cl⁻", "NO₃⁻", "SCN⁻", "NO₃⁻-(E367K)"], "range": ["square", "circle", "triangle-up", "triangle-down"]},
     "legend": {"orient": "none", "legendX": 24, "legendY": 28.9, "title": null, "labelFontSize": 9.5, "symbolSize": 22, "symbolFillColor": "#000", "symbolStrokeColor": "#000", "rowPadding": 0.5, "labelOffset": 3}}}},
   {"data": {"values": [{"k": 0}]}, "mark": {"type": "text", "text": "Slc26a3(E367A)", "fontSize": 10},
    "encoding": {"x": {"datum": -7.5, "type": "quantitative", "title": "mV", "scale": {"domain": [-100, 60], "range": [34.5, 162.5], "nice": false, "zero": false}}, "y": {"datum": 14.5, "type": "quantitative", "title": "μA", "scale": {"domain": [-6.9, 12.4], "range": [138.2, 20.9], "nice": false, "zero": false}}}},
   {"data": {"values": [{"k": 0}]}, "mark": {"type": "text", "text": "B", "fontSize": 11, "align": "left", "baseline": "alphabetic"},
    "encoding": {"x": {"datum": -143.1, "type": "quantitative", "title": "mV", "scale": {"domain": [-100, 60], "range": [34.5, 162.5], "nice": false, "zero": false}}, "y": {"datum": 13.37, "type": "quantitative", "title": "μA", "scale": {"domain": [-6.9, 12.4], "range": [138.2, 20.9], "nice": false, "zero": false}}}}
  ]},
 {"width": 240, "height": 160,
  "layer": [
   {"data": {"name": "trF"}, "transform": [{"filter": "datum.cell === 'E367A'"}], "mark": {"type": "line", "color": "#8c8c8c", "strokeWidth": 1.3},
    "encoding": {
     "x": {"field": "t", "type": "quantitative", "scale": {"domain": [0, 10], "range": [69, 230], "nice": false, "zero": false}, "axis": null},
     "y": {"field": "val", "type": "quantitative", "scale": {"domain": [0, 100], "range": [168.3, 40], "nice": false}, "axis": {"values": [0, 25, 50, 75, 100], "offset": -69, "title": ["Intracellular SCN⁻", "Arbitrary units"], "titleFontSize": 11, "titleLineHeight": 17, "labelFontSize": 11, "titleY": 91, "titlePadding": 3}}}},
   {"data": {"name": "trF"}, "transform": [{"filter": "datum.cell === 'WT'"}], "mark": {"type": "line", "color": "#000", "strokeWidth": 1.5},
    "encoding": {
     "x": {"field": "t", "type": "quantitative", "scale": {"domain": [0, 10], "range": [69, 230], "nice": false, "zero": false}, "axis": null},
     "y": {"field": "val", "type": "quantitative", "scale": {"domain": [0, 100], "range": [168.3, 40], "nice": false}}}},
   {"data": {"values": [{"lab": "SCN⁻", "a": 1.31, "b": 3.5, "c": -3.7, "tx": 2.4, "ty": -9.9, "w": 3}, {"lab": "5 min", "a": 4.4, "b": 9.4, "c": 48.8, "tx": 6.9, "ty": 57.1, "w": 1}]},
    "layer": [
     {"mark": {"type": "rule", "color": "#000"},
      "encoding": {"x": {"field": "a", "type": "quantitative", "scale": {"domain": [0, 10], "range": [69, 230], "nice": false, "zero": false}, "axis": null}, "x2": {"field": "b"}, "y": {"field": "c", "type": "quantitative", "scale": {"domain": [0, 100], "range": [168.3, 40], "nice": false}}, "strokeWidth": {"field": "w", "type": "quantitative", "scale": null}}},
     {"mark": {"type": "text", "fontSize": 10},
      "encoding": {"x": {"field": "tx", "type": "quantitative", "scale": {"domain": [0, 10], "range": [69, 230], "nice": false, "zero": false}, "axis": null}, "y": {"field": "ty", "type": "quantitative", "scale": {"domain": [0, 100], "range": [168.3, 40], "nice": false}}, "text": {"field": "lab"}}}
    ]},
   {"data": {"values": [{"k": 0}]}, "mark": {"type": "text", "text": "F", "fontSize": 11, "align": "left", "baseline": "alphabetic"},
    "encoding": {"x": {"datum": -3.54, "type": "quantitative", "scale": {"domain": [0, 10], "range": [69, 230], "nice": false, "zero": false}, "axis": null}, "y": {"datum": 119.48, "type": "quantitative", "scale": {"domain": [0, 100], "range": [168.3, 40], "nice": false}}}}
  ]},
 {"width": 224, "height": 160,
  "layer": [
   {"data": {"name": "trG"}, "transform": [{"filter": "datum.cell === 'E367A'"}], "mark": {"type": "line", "color": "#8c8c8c", "strokeWidth": 1.2},
    "encoding": {
     "x": {"field": "t", "type": "quantitative", "scale": {"domain": [0, 16.7], "range": [53, 220], "nice": false, "zero": false}, "axis": null},
     "y": {"field": "val", "type": "quantitative", "scale": {"domain": [-80, -17.8], "range": [180.7, 68.3], "nice": false, "zero": false}, "axis": {"values": [-20, -40, -60, -80], "offset": -53, "title": null, "labelFontSize": 11, "labelExpr": "replace(datum.label,'−','-')"}}}},
   {"data": {"name": "trG"}, "transform": [{"filter": "datum.cell === 'WT'"}], "mark": {"type": "line", "color": "#000", "strokeWidth": 1.3},
    "encoding": {
     "x": {"field": "t", "type": "quantitative", "scale": {"domain": [0, 16.7], "range": [53, 220], "nice": false, "zero": false}, "axis": null},
     "y": {"field": "val", "type": "quantitative", "scale": {"domain": [-80, -17.8], "range": [180.7, 68.3], "nice": false, "zero": false}}}},
   {"data": {"values": [{"lab": "SCN⁻", "a": 1.87, "b": 5.3, "c": -81.1, "tx": 3.6, "ty": -85.2}]},
    "layer": [
     {"mark": {"type": "rule", "strokeWidth": 3, "color": "#000"},
      "encoding": {"x": {"field": "a", "type": "quantitative", "scale": {"domain": [0, 16.7], "range": [53, 220], "nice": false, "zero": false}, "axis": null}, "x2": {"field": "b"}, "y": {"field": "c", "type": "quantitative", "scale": {"domain": [-80, -17.8], "range": [180.7, 68.3], "nice": false, "zero": false}}}},
     {"mark": {"type": "text", "fontSize": 10},
      "encoding": {"x": {"field": "tx", "type": "quantitative", "scale": {"domain": [0, 16.7], "range": [53, 220], "nice": false, "zero": false}, "axis": null}, "y": {"field": "ty", "type": "quantitative", "scale": {"domain": [-80, -17.8], "range": [180.7, 68.3], "nice": false, "zero": false}}, "text": {"field": "lab"}}}
    ]},
   {"data": {"values": [{"k": 0}]}, "mark": {"type": "text", "text": "G", "fontSize": 11, "align": "left", "baseline": "alphabetic"},
    "encoding": {"x": {"datum": -2.02, "type": "quantitative", "scale": {"domain": [0, 16.7], "range": [53, 220], "nice": false, "zero": false}, "axis": null}, "y": {"datum": -8.61, "type": "quantitative", "scale": {"domain": [-80, -17.8], "range": [180.7, 68.3], "nice": false, "zero": false}}}}
  ]},
 {"width": 200, "height": 226,
  "title": {"text": "C", "dx": 0.5, "dy": 28.2},
  "data": {"name": "barC"},
  "encoding": {
   "x": {"field": "group", "type": "nominal", "sort": ["A3-WT", "E367A", "E367K"], "scale": {"range": [30, 195], "paddingInner": 0.1, "paddingOuter": 0.05}, "axis": {"title": null, "offset": -34, "labelAngle": 0, "tickSize": 0, "labelPadding": 4, "labelFontSize": 11}},
   "xOffset": {"field": "anion", "type": "nominal", "sort": ["Cl⁻", "NO₃⁻", "SCN⁻"], "scale": {"paddingInner": 0.15}}
  },
  "layer": [
   {"mark": {"type": "bar", "width": 13, "strokeWidth": 1},
    "encoding": {
     "y": {"field": "mean", "type": "quantitative", "title": "Current at +60 mV (μA)", "scale": {"domain": [0, 5.75], "range": [192, 7], "nice": false}, "axis": {"values": [0, 1, 2, 3, 4, 5], "offset": -30, "tickSize": 5, "labelFontSize": 11, "titleFontSize": 11, "titlePadding": 3}},
     "fill": {"field": "anion", "type": "nominal", "scale": {"domain": ["Cl⁻", "NO₃⁻", "SCN⁻"], "range": ["#000000", "#e6e6e6", "#c8c8c8"]}, "legend": {"orient": "none", "legendX": 35, "legendY": 14, "direction": "horizontal", "title": null, "symbolType": "square", "symbolSize": 55, "symbolStrokeWidth": 1, "labelFontSize": 11, "columnPadding": 14, "labelOffset": 2}},
     "stroke": {"field": "anion", "type": "nominal", "scale": {"domain": ["Cl⁻", "NO₃⁻", "SCN⁻"], "range": ["#000000", "#7a7a7a", "#888888"]}, "legend": {"orient": "none", "legendX": 35, "legendY": 14, "direction": "horizontal", "title": null, "symbolType": "square", "symbolSize": 55, "symbolStrokeWidth": 1, "labelFontSize": 11, "columnPadding": 14, "labelOffset": 2}}
    }},
   {"mark": {"type": "rule", "strokeWidth": 1, "color": "#333"}, "encoding": {"y": {"field": "mean", "type": "quantitative", "title": "Current at +60 mV (μA)"}, "y2": {"field": "hi"}}},
   {"mark": {"type": "tick", "thickness": 1, "size": 8, "color": "#333"}, "encoding": {"y": {"field": "hi", "type": "quantitative", "title": "Current at +60 mV (μA)"}}},
   {"transform": [{"filter": "datum.group !== 'E367K'"}], "mark": {"type": "bar", "width": 11, "color": "#ffffff"}, "encoding": {"y": {"datum": 0.06}, "y2": {"datum": 0.55}}},
   {"transform": [{"filter": "datum.group !== 'E367K'"}], "mark": {"type": "text", "fontSize": 11}, "encoding": {"y": {"datum": 0.29}, "text": {"field": "n"}}},
   {"transform": [{"filter": "datum.group === 'E367K'"}], "mark": {"type": "text", "fontSize": 11}, "encoding": {"y": {"datum": 0.56}, "text": {"field": "n"}}}
  ]},
 {"width": 240, "height": 226,
  "title": {"text": "H", "dx": 14, "dy": 71.2},
  "data": {"name": "barH"},
  "encoding": {
   "x": {"field": "anion", "type": "nominal", "sort": ["Cl⁻", "NO₃⁻", "SCN⁻"], "scale": {"range": [101, 229], "paddingInner": 0.38, "paddingOuter": 0.16}, "axis": {"title": null, "offset": -14, "labelAngle": 0, "tickSize": 0, "labelPadding": 1, "labelFontSize": 10, "labelDx": -10}},
   "xOffset": {"field": "cell", "type": "nominal", "sort": ["WT", "E367A"], "scale": {"paddingInner": 0.1}}
  },
  "layer": [
   {"mark": {"type": "bar", "width": 12.5, "strokeWidth": 0.8},
    "encoding": {
     "y": {"field": "mean", "type": "quantitative", "title": "Anion influx (Relative rate)", "scale": {"domain": [0, 1.1], "range": [212, 73.4], "nice": false}, "axis": {"values": [0, 0.25, 0.5, 0.75, 1], "offset": -101, "format": ".2f", "titleFontSize": 9.5, "labelFontSize": 10, "titleY": 149, "titlePadding": 4}},
     "fill": {"field": "cell", "type": "nominal", "scale": {"domain": ["WT", "E367A"], "range": ["#000000", "#a6a6a6"]}, "legend": null},
     "stroke": {"field": "cell", "type": "nominal", "scale": {"domain": ["WT", "E367A"], "range": ["#000000", "#555555"]}, "legend": null}
    }},
   {"mark": {"type": "rule", "strokeWidth": 1}, "encoding": {"y": {"field": "mean", "type": "quantitative", "title": "Anion influx (Relative rate)"}, "y2": {"field": "hi"}, "color": {"field": "cell", "type": "nominal", "scale": {"domain": ["WT", "E367A"], "range": ["#000000", "#444444"]}, "legend": null}}},
   {"mark": {"type": "tick", "thickness": 1, "size": 5}, "encoding": {"y": {"field": "hi", "type": "quantitative", "title": "Anion influx (Relative rate)"}, "color": {"field": "cell", "type": "nominal", "scale": {"domain": ["WT", "E367A"], "range": ["#000000", "#444444"]}, "legend": null}}},
   {"mark": {"type": "bar", "width": 6.5, "color": "#ffffff"}, "encoding": {"y": {"datum": 0.095}, "y2": {"datum": 0.19}}},
   {"mark": {"type": "text", "fontSize": 9.5}, "encoding": {"y": {"datum": 0.142}, "text": {"field": "n"}}}
  ]},
 {"width": 224, "height": 226,
  "title": {"text": "I", "dx": 17, "dy": 78.7},
  "data": {"name": "barI"},
  "encoding": {
   "x": {"field": "anion", "type": "nominal", "sort": ["Cl⁻", "NO₃⁻", "SCN⁻"], "scale": {"range": [95.7, 223.7], "paddingInner": 0.38, "paddingOuter": 0.16}, "axis": {"title": null, "offset": -14.3, "labelAngle": 0, "tickSize": 0, "labelPadding": 1, "labelFontSize": 10, "labelDx": -11}},
   "xOffset": {"field": "cell", "type": "nominal", "sort": ["WT", "E367A"], "scale": {"paddingInner": 0.1}}
  },
  "layer": [
   {"mark": {"type": "bar", "width": 12.5, "strokeWidth": 0.8},
    "encoding": {
     "y": {"field": "mean", "type": "quantitative", "title": ["Membrane potential", "(Relative change)"], "scale": {"domain": [0, 1.2], "range": [211.7, 60.5], "nice": false}, "axis": {"values": [0, 0.25, 0.5, 0.75, 1], "offset": -95.7, "format": ".2f", "titleFontSize": 9.5, "titleLineHeight": 13, "labelFontSize": 10, "titleY": 150, "titlePadding": 4}},
     "fill": {"field": "cell", "type": "nominal", "scale": {"domain": ["WT", "E367A"], "range": ["#000000", "#a6a6a6"]}, "legend": null},
     "stroke": {"field": "cell", "type": "nominal", "scale": {"domain": ["WT", "E367A"], "range": ["#000000", "#555555"]}, "legend": null}
    }},
   {"mark": {"type": "rule", "strokeWidth": 1}, "encoding": {"y": {"field": "mean", "type": "quantitative", "title": ["Membrane potential", "(Relative change)"]}, "y2": {"field": "hi"}, "color": {"field": "cell", "type": "nominal", "scale": {"domain": ["WT", "E367A"], "range": ["#000000", "#444444"]}, "legend": null}}},
   {"mark": {"type": "tick", "thickness": 1, "size": 5}, "encoding": {"y": {"field": "hi", "type": "quantitative", "title": ["Membrane potential", "(Relative change)"]}, "color": {"field": "cell", "type": "nominal", "scale": {"domain": ["WT", "E367A"], "range": ["#000000", "#444444"]}, "legend": null}}},
   {"mark": {"type": "bar", "width": 6.5, "color": "#ffffff"}, "encoding": {"y": {"datum": 0.095}, "y2": {"datum": 0.19}}},
   {"mark": {"type": "text", "fontSize": 9.5}, "encoding": {"y": {"datum": 0.142}, "text": {"field": "n"}}}
  ]}
]
}
